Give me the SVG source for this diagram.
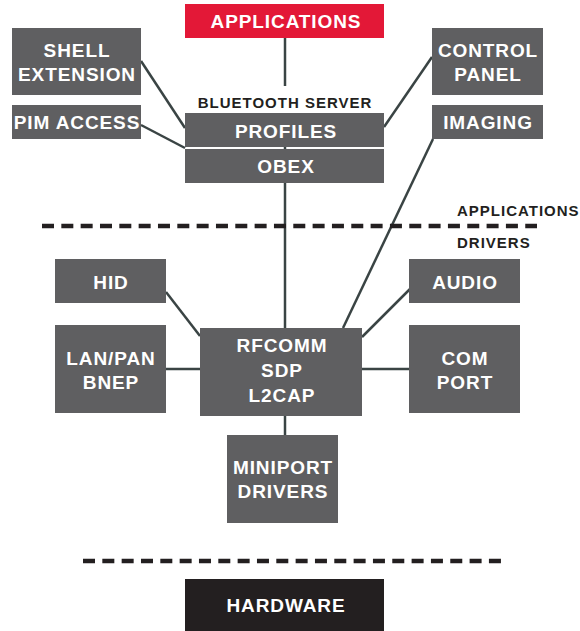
<svg xmlns="http://www.w3.org/2000/svg" width="580" height="631" viewBox="0 0 580 631">
<style>
.box{fill:#5f5f61}
.t{font-family:"Liberation Sans",Arial,sans-serif;font-weight:bold;font-size:19px;letter-spacing:0.9px;fill:#ffffff;text-anchor:middle}
.lbl{font-family:"Liberation Sans",Arial,sans-serif;font-weight:bold;font-size:15px;letter-spacing:1px;fill:#231f20}
.c{stroke:#3a4444;stroke-width:2.5;fill:none}
.dash{stroke:#231f20;stroke-width:4.5;stroke-dasharray:12 7.33;fill:none}
</style>
<rect width="580" height="631" fill="#ffffff"/>
<g id="connectors">
<line class="c" x1="285" y1="38" x2="285" y2="86"/>
<line class="c" x1="285" y1="146" x2="285" y2="150"/>
<line class="c" x1="285" y1="183" x2="285" y2="328"/>
<line class="c" x1="141" y1="61" x2="185" y2="128"/>
<line class="c" x1="141" y1="125" x2="185" y2="148"/>
<line class="c" x1="432" y1="57" x2="384" y2="127"/>
<line class="c" x1="433" y1="139" x2="343" y2="328"/>
<line class="c" x1="166" y1="292" x2="200" y2="336"/>
<line class="c" x1="166" y1="369" x2="200" y2="369"/>
<line class="c" x1="410" y1="289" x2="362" y2="337"/>
<line class="c" x1="362" y1="369" x2="410" y2="369"/>
<line class="c" x1="285" y1="416" x2="285" y2="435"/>
</g>
<g id="separators">
<line class="dash" x1="42" y1="226" x2="537" y2="226"/>
<line class="dash" x1="83" y1="561" x2="502" y2="561"/>
<text class="lbl" x="457" y="216">APPLICATIONS</text>
<text class="lbl" x="457" y="248">DRIVERS</text>
<text class="lbl" x="285" y="108" text-anchor="middle">BLUETOOTH SERVER</text>
</g>
<g id="applications"><rect x="185" y="4" width="199" height="34" fill="#e31837"/><text class="t" x="286" y="28">APPLICATIONS</text></g>
<g id="shell"><rect class="box" x="12" y="28" width="129" height="67"/><text class="t" x="77" y="57">SHELL</text><text class="t" x="77" y="81">EXTENSION</text></g>
<g id="pim"><rect class="box" x="12" y="105" width="129" height="34"/><text class="t" x="77" y="129">PIM ACCESS</text></g>
<g id="profiles"><rect class="box" x="185" y="113" width="199" height="34"/><text class="t" x="286" y="138">PROFILES</text></g>
<g id="obex"><rect class="box" x="185" y="149" width="199" height="34"/><text class="t" x="286" y="173">OBEX</text></g>
<g id="control"><rect class="box" x="432" y="28" width="111" height="67"/><text class="t" x="488" y="57">CONTROL</text><text class="t" x="488" y="81">PANEL</text></g>
<g id="imaging"><rect class="box" x="432" y="105" width="111" height="34"/><text class="t" x="488" y="129">IMAGING</text></g>
<g id="hid"><rect class="box" x="55" y="259" width="111" height="44"/><text class="t" x="111" y="289">HID</text></g>
<g id="lanpan"><rect class="box" x="55" y="325" width="111" height="88"/><text class="t" x="111" y="365">LAN/PAN</text><text class="t" x="111" y="389">BNEP</text></g>
<g id="rfcomm"><rect class="box" x="200" y="328" width="162" height="88"/><text class="t" x="282" y="352">RFCOMM</text><text class="t" x="282" y="377">SDP</text><text class="t" x="282" y="402">L2CAP</text></g>
<g id="audio"><rect class="box" x="409" y="259" width="111" height="44"/><text class="t" x="465" y="289">AUDIO</text></g>
<g id="comport"><rect class="box" x="409" y="325" width="111" height="88"/><text class="t" x="465" y="365">COM</text><text class="t" x="465" y="389">PORT</text></g>
<g id="miniport"><rect class="box" x="227" y="435" width="111" height="88"/><text class="t" x="283" y="474">MINIPORT</text><text class="t" x="283" y="498">DRIVERS</text></g>
<g id="hardware"><rect x="185" y="579" width="199" height="52" fill="#231f20"/><text class="t" x="286" y="612">HARDWARE</text></g>
</svg>
